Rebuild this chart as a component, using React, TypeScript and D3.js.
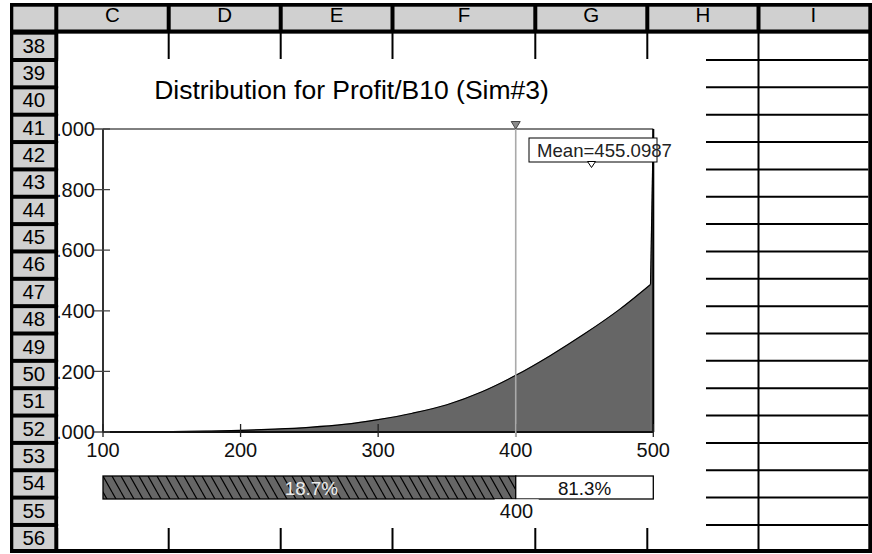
import React from "react";
import * as d3 from "d3";

// ---------- data ----------
const densityX = [100, 125, 150, 175, 200, 225, 250, 275, 300, 325, 350, 375, 400, 425, 450, 475, 498, 500];
const densityY = [0, 0.0005, 0.0015, 0.003, 0.0055, 0.0095, 0.0155, 0.025, 0.041, 0.062, 0.09, 0.132, 0.187, 0.252, 0.324, 0.403, 0.487, 1.0];
const xTicks = [100, 200, 300, 400, 500];
const yTicks = [0, 0.2, 0.4, 0.6, 0.8, 1.0];
const meanValue = 455.0987;
const splitValue = 400;
const leftPct = "18.7%";
const rightPct = "81.3%";
const title = "Distribution for Profit/B10 (Sim#3)";
const colLetters = ["C", "D", "E", "F", "G", "H", "I"];
const rowNumbers = d3.range(38, 57);

// ---------- layout ----------
const W = 872;
const H = 554;
const FONT = "'Liberation Sans', Arial, Helvetica, sans-serif";
const colEdges = [56.3, 168.7, 280.7, 392.5, 535.3, 647.3, 758.5, 868.3];
const headerBottom = 32.65;
const rowH = 27.35;
const bodyBottom = 549;
const rowTop = (i: number) => headerBottom + i * rowH;

const chart = { x0: 58.3, x1: 706, y0: 59, y1: 528 };

const xScale = d3.scaleLinear().domain([100, 500]).range([103, 653.3]);
const yScale = d3.scaleLinear().domain([0, 1]).range([432, 129]);

type P = { x: number; y: number };
const points: P[] = densityX.map((x, i) => ({ x, y: densityY[i] }));
const smoothPts = points.slice(0, points.length - 1);
const spikePts = points.slice(points.length - 2);

const areaSmooth = d3
  .area<P>()
  .curve(d3.curveMonotoneX)
  .x((d) => xScale(d.x))
  .y0(yScale(0))
  .y1((d) => yScale(d.y))(smoothPts) as string;
const areaSpike = d3
  .area<P>()
  .x((d) => xScale(d.x))
  .y0(yScale(0))
  .y1((d) => yScale(d.y))(spikePts) as string;
const lineSmooth = d3
  .line<P>()
  .curve(d3.curveMonotoneX)
  .x((d) => xScale(d.x))
  .y((d) => yScale(d.y))(smoothPts) as string;
const lineSpike = d3
  .line<P>()
  .x((d) => xScale(d.x))
  .y((d) => yScale(d.y))(spikePts) as string;

const barY0 = 476;
const barY1 = 499;

export default function App() {
  const gray = "#d0d0d0";
  const xs = xScale(splitValue);
  const xm = xScale(meanValue);
  return (
    <svg
      width={W}
      height={H}
      style={{ position: "absolute", left: 0, top: 0, display: "block" }}
      fontFamily={FONT}
    >
      <defs>
        <clipPath id="chartClip">
          <rect x={chart.x0} y={chart.y0} width={chart.x1 - chart.x0} height={chart.y1 - chart.y0} />
        </clipPath>
        <pattern id="hatch" patternUnits="userSpaceOnUse" x={103} y={barY0} width={9} height={16}>
          <rect width={9} height={16} fill="#666666" />
          <path d="M0,0L9,16M-9,0L0,16M9,0L18,16" stroke="#000" strokeWidth={1.2} />
        </pattern>
      </defs>
      <rect x={0} y={0} width={W} height={H} fill="#fff" />
      {/* outer frame */}
      <rect x={10} y={3} width={862} height={550} fill="#000" />
      {/* corner cell */}
      <rect x={13.3} y={6.7} width={41} height={22.8} fill={gray} />
      {/* column headers */}
      {colLetters.map((c, j) => {
        const a = colEdges[j] + 2;
        const b = j === colLetters.length - 1 ? colEdges[j + 1] : colEdges[j + 1] - 2;
        return (
          <g key={c}>
            <rect x={a} y={6.7} width={b - a} height={22.8} fill={gray} />
            <text x={(colEdges[j] + colEdges[j + 1]) / 2} y={22} fontSize={20.5} textAnchor="middle" fill="#000">
              {c}
            </text>
          </g>
        );
      })}
      {/* row headers */}
      {rowNumbers.map((r, i) => {
        const a = rowTop(i) + 2;
        const b = i === rowNumbers.length - 1 ? bodyBottom : rowTop(i + 1) - 2;
        return (
          <g key={r}>
            <rect x={13.3} y={a} width={41} height={b - a} fill={gray} />
            <text x={33.8} y={rowTop(i) + 20} fontSize={20.5} textAnchor="middle" fill="#000">
              {r}
            </text>
          </g>
        );
      })}
      {/* body */}
      <rect x={58.3} y={headerBottom + 1} width={868.3 - 58.3} height={bodyBottom - headerBottom - 1} fill="#fff" />
      {d3.range(1, rowNumbers.length).map((k) => (
        <line key={"h" + k} x1={58.3} x2={868.3} y1={rowTop(k)} y2={rowTop(k)} stroke="#000" strokeWidth={2} />
      ))}
      {colEdges.slice(1, colEdges.length - 1).map((x, k) => (
        <line key={"v" + k} x1={x} x2={x} y1={headerBottom} y2={bodyBottom} stroke="#000" strokeWidth={2} />
      ))}

      {/* chart object */}
      <rect x={chart.x0} y={chart.y0} width={chart.x1 - chart.x0} height={chart.y1 - chart.y0} fill="#fff" />
      <g clipPath="url(#chartClip)">
        <text x={351.5} y={99} fontSize={26.5} textAnchor="middle" fill="#000">
          {title}
        </text>

        {/* area */}
        <path d={areaSmooth} fill="#666666" stroke="#666666" strokeWidth={0.6} />
        <path d={areaSpike} fill="#666666" stroke="#666666" strokeWidth={0.6} />
        <path d={lineSmooth} fill="none" stroke="#000" strokeWidth={1.2} />
        <path d={lineSpike} fill="none" stroke="#000" strokeWidth={1.2} />
        <line x1={xScale(500)} x2={xScale(500)} y1={yScale(1)} y2={yScale(0)} stroke="#000" strokeWidth={2} />

        {/* frame lines */}
        <line x1={xScale(100)} x2={xScale(500)} y1={yScale(1)} y2={yScale(1)} stroke="#000" strokeWidth={1} />
        <line x1={xScale(100)} x2={xScale(100)} y1={yScale(1)} y2={yScale(0)} stroke="#333" strokeWidth={2} />
        <line x1={xScale(100)} x2={xScale(500)} y1={yScale(0)} y2={yScale(0)} stroke="#111" strokeWidth={2} />

        {/* y ticks */}
        {yTicks.map((t) => (
          <g key={"yt" + t}>
            <line x1={94} x2={110} y1={yScale(t)} y2={yScale(t)} stroke="#444" strokeWidth={1.3} />
            <text x={95} y={yScale(t) + 7.2} fontSize={20} textAnchor="end" fill="#111">
              {d3.format(".3f")(t)}
            </text>
          </g>
        ))}
        {/* x ticks */}
        {xTicks.map((t) => (
          <g key={"xt" + t}>
            <line x1={xScale(t)} x2={xScale(t)} y1={424} y2={437} stroke="#222" strokeWidth={1.3} />
            <text x={xScale(t)} y={456.7} fontSize={20} textAnchor="middle" fill="#111">
              {t}
            </text>
          </g>
        ))}

        {/* split line and marker */}
        <line x1={xs} x2={xs} y1={126} y2={437} stroke="#aaaaaa" strokeWidth={1.6} />
        <path d={`M${xs - 4.5},121.5L${xs + 4.5},121.5L${xs},129Z`} fill="#8a8a8a" stroke="#444" strokeWidth={1} />

        {/* mean box */}
        <rect x={529} y={138} width={128} height={24} fill="#fff" stroke="#000" strokeWidth={1} />
        <text x={537} y={157} fontSize={18.6} fill="#222">
          {"Mean=" + meanValue}
        </text>
        <path d={`M${xm - 4},161.5L${xm + 4},161.5L${xm},167.5Z`} fill="#fff" stroke="#000" strokeWidth={1} />

        {/* percent bar */}
        <rect x={xScale(100)} y={barY0} width={xs - xScale(100)} height={barY1 - barY0} fill="url(#hatch)" stroke="#000" strokeWidth={1.3} />
        <rect x={xs} y={barY0} width={xScale(500) - xs} height={barY1 - barY0} fill="#fff" stroke="#000" strokeWidth={1.3} />
        <text x={(xScale(100) + xs) / 2 + 2} y={495} fontSize={18.8} textAnchor="middle" fill="#ececec">
          {leftPct}
        </text>
        <text x={(xs + xScale(500)) / 2} y={495} fontSize={18.8} textAnchor="middle" fill="#111">
          {rightPct}
        </text>
        <rect x={xs - 21} y={499.3} width={44} height={22} fill="#fff" />
        <text x={xs + 0.8} y={518} fontSize={20} textAnchor="middle" fill="#111">
          {splitValue}
        </text>
      </g>
    </svg>
  );
}
